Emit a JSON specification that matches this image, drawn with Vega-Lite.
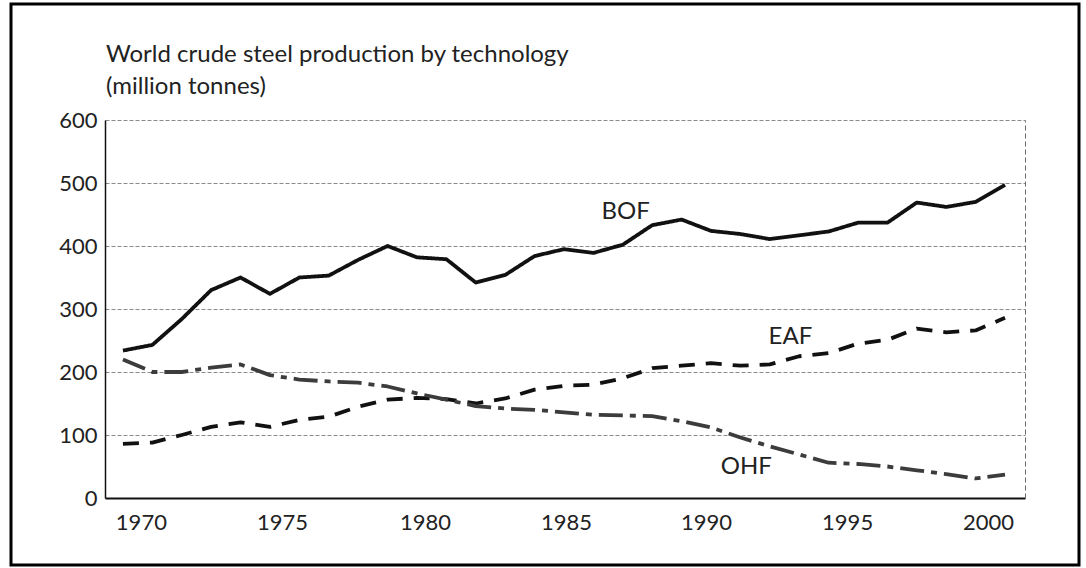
{
  "$schema": "https://vega.github.io/schema/vega-lite/v6.json",
  "autosize": "none",
  "padding": {"left": 11, "top": 4, "right": 7, "bottom": 3},
  "width": 1068,
  "height": 561,
  "background": "#ffffff",
  "config": {
    "view": {"stroke": "#000000", "strokeWidth": 3},
    "font": "Lato"
  },
  "title": {
    "text": ["World crude steel production by technology", "(million tonnes)"],
    "anchor": "start",
    "frame": "group",
    "orient": "top",
    "offset": -114,
    "dx": 95,
    "fontSize": 24,
    "font": "Lato",
    "fontWeight": "normal",
    "color": "#222222",
    "lineHeight": 32,
    "baseline": "alphabetic"
  },
  "datasets": {
    "steel": [
      {"year": 1970, "BOF": 234, "EAF": 86, "OHF": 220},
      {"year": 1971, "BOF": 243, "EAF": 88, "OHF": 200},
      {"year": 1972, "BOF": 284, "EAF": 100, "OHF": 200},
      {"year": 1973, "BOF": 330, "EAF": 113, "OHF": 207},
      {"year": 1974, "BOF": 350, "EAF": 120, "OHF": 212},
      {"year": 1975, "BOF": 324, "EAF": 113, "OHF": 195},
      {"year": 1976, "BOF": 350, "EAF": 124, "OHF": 188},
      {"year": 1977, "BOF": 353, "EAF": 129, "OHF": 185},
      {"year": 1978, "BOF": 378, "EAF": 145, "OHF": 183},
      {"year": 1979, "BOF": 400, "EAF": 156, "OHF": 177},
      {"year": 1980, "BOF": 382, "EAF": 159, "OHF": 166},
      {"year": 1981, "BOF": 379, "EAF": 157, "OHF": 156},
      {"year": 1982, "BOF": 342, "EAF": 150, "OHF": 146},
      {"year": 1983, "BOF": 354, "EAF": 158, "OHF": 142},
      {"year": 1984, "BOF": 384, "EAF": 172, "OHF": 140},
      {"year": 1985, "BOF": 395, "EAF": 178, "OHF": 136},
      {"year": 1986, "BOF": 389, "EAF": 180, "OHF": 132},
      {"year": 1987, "BOF": 402, "EAF": 190, "OHF": 131},
      {"year": 1988, "BOF": 433, "EAF": 206, "OHF": 130},
      {"year": 1989, "BOF": 442, "EAF": 210, "OHF": 122},
      {"year": 1990, "BOF": 424, "EAF": 214, "OHF": 112},
      {"year": 1991, "BOF": 419, "EAF": 210, "OHF": 96},
      {"year": 1992, "BOF": 411, "EAF": 212, "OHF": 82},
      {"year": 1993, "BOF": 417, "EAF": 225, "OHF": 69},
      {"year": 1994, "BOF": 423, "EAF": 230, "OHF": 56},
      {"year": 1995, "BOF": 437, "EAF": 245, "OHF": 54},
      {"year": 1996, "BOF": 437, "EAF": 251, "OHF": 50},
      {"year": 1997, "BOF": 469, "EAF": 269, "OHF": 44},
      {"year": 1998, "BOF": 462, "EAF": 263, "OHF": 38},
      {"year": 1999, "BOF": 470, "EAF": 266, "OHF": 31},
      {"year": 2000, "BOF": 497, "EAF": 286, "OHF": 37}
    ],
    "labels": [
      {"series": "BOF", "year": 1987.1, "value": 454},
      {"series": "EAF", "year": 1992.7, "value": 256},
      {"series": "OHF", "year": 1991.2, "value": 49}
    ]
  },
  "layer": [
    {
      "data": {"name": "steel"},
      "transform": [{"fold": ["BOF", "EAF", "OHF"], "as": ["series", "value"]}],
      "mark": {"type": "line", "strokeCap": "butt", "strokeJoin": "round"},
      "encoding": {
        "x": {
          "field": "year",
          "type": "quantitative",
          "scale": {"domain": [1969.39, 2000.68], "range": [94, 1014], "nice": false, "zero": false},
          "axis": {
            "orient": "bottom",
            "offset": -67,
            "title": null,
            "values": [1970.61, 1975.41, 1980.27, 1985.07, 1989.83, 1994.63, 1999.42],
            "labelExpr": "format(round(datum.value / 5) * 5, 'd')",
            "grid": false,
            "ticks": false,
            "domain": true,
            "domainColor": "#111111",
            "domainWidth": 2,
            "domainDash": [],
            "labelFont": "Lato",
            "labelFontSize": 22,
            "labelColor": "#222222",
            "labelPadding": 14
          }
        },
        "y": {
          "field": "value",
          "type": "quantitative",
          "scale": {"domain": [0, 600], "range": [494, 116], "nice": false, "zero": true},
          "axis": {
            "orient": "left",
            "offset": -94,
            "title": null,
            "values": [0, 100, 200, 300, 400, 500, 600],
            "grid": true,
            "gridColor": "#8a8a8a",
            "gridDash": [4, 2],
            "gridWidth": 1,
            "ticks": false,
            "domain": true,
            "domainColor": "#111111",
            "domainWidth": 1.5,
            "domainDash": [],
            "labelFont": "Lato",
            "labelFontSize": 22,
            "labelColor": "#222222",
            "labelPadding": 8
          }
        },
        "color": {
          "field": "series",
          "type": "nominal",
          "scale": {"domain": ["BOF", "EAF", "OHF"], "range": ["#111111", "#111111", "#3c3c3c"]},
          "legend": null
        },
        "strokeDash": {
          "field": "series",
          "type": "nominal",
          "scale": {"domain": ["BOF", "EAF", "OHF"], "range": [[1, 0], [16, 11], [24, 7, 6, 7]]},
          "legend": null
        },
        "strokeWidth": {
          "field": "series",
          "type": "nominal",
          "scale": {"domain": ["BOF", "EAF", "OHF"], "range": [3.8, 3.8, 3]},
          "legend": null
        }
      }
    },
    {
      "data": {"name": "labels"},
      "mark": {"type": "text", "align": "center", "baseline": "middle", "font": "Lato", "fontSize": 24, "color": "#222222"},
      "encoding": {
        "x": {
          "field": "year",
          "type": "quantitative",
          "axis": {
            "orient": "bottom",
            "offset": -67,
            "title": null,
            "values": [1970.61, 1975.41, 1980.27, 1985.07, 1989.83, 1994.63, 1999.42],
            "labelExpr": "format(round(datum.value / 5) * 5, 'd')",
            "grid": false,
            "ticks": false,
            "domain": true,
            "domainColor": "#111111",
            "domainWidth": 2,
            "domainDash": [],
            "labelFont": "Lato",
            "labelFontSize": 22,
            "labelColor": "#222222",
            "labelPadding": 14
          }
        },
        "y": {
          "field": "value",
          "type": "quantitative",
          "axis": {
            "orient": "right",
            "offset": -54,
            "title": null,
            "labels": false,
            "ticks": false,
            "grid": false,
            "domainColor": "#6a6a6a",
            "domainDash": [5, 3],
            "domainWidth": 1
          }
        },
        "text": {"field": "series"}
      }
    }
  ],
  "resolve": {"axis": {"y": "independent"}}
}
